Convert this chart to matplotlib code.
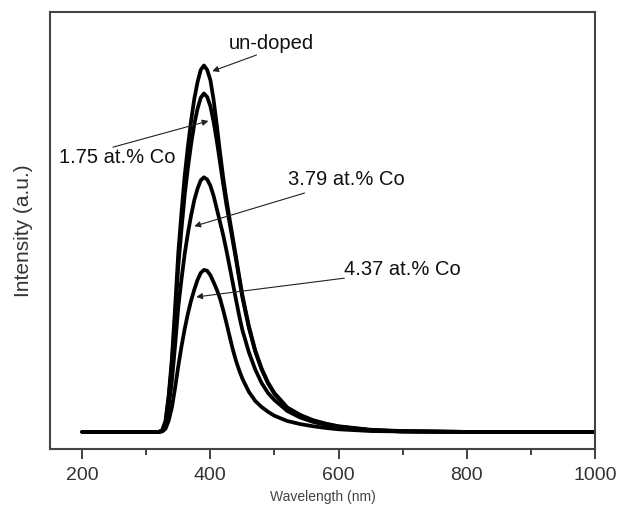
import matplotlib
matplotlib.use("Agg")
import matplotlib.pyplot as plt
from matplotlib.ticker import MultipleLocator

plt.rcParams['font.family'] = ['Liberation Sans', 'DejaVu Sans']

wavelength = [200, 320, 325, 330, 335, 340, 345, 350, 355, 360,
              365, 370, 375, 380, 385, 390, 395, 400, 405, 410,
              415, 420, 425, 430, 435, 440, 445, 450, 460, 470,
              480, 490, 500, 520, 540, 560, 580, 600, 650, 700,
              800, 1000]

undoped = [0.039, 0.039, 0.043, 0.064, 0.123, 0.207, 0.324, 0.450, 0.542, 0.626,
           0.693, 0.752, 0.802, 0.840, 0.868, 0.878, 0.868, 0.845, 0.800, 0.742,
           0.680, 0.622, 0.572, 0.527, 0.483, 0.440, 0.395, 0.352, 0.282, 0.226,
           0.184, 0.152, 0.128, 0.095, 0.078, 0.066, 0.058, 0.052, 0.044, 0.041,
           0.039, 0.039]

co_175 = [0.039, 0.039, 0.043, 0.062, 0.117, 0.194, 0.303, 0.419, 0.504, 0.582,
          0.644, 0.698, 0.744, 0.779, 0.804, 0.814, 0.806, 0.785, 0.750, 0.706,
          0.657, 0.607, 0.560, 0.518, 0.476, 0.434, 0.390, 0.347, 0.278, 0.223,
          0.182, 0.150, 0.126, 0.094, 0.077, 0.065, 0.057, 0.051, 0.043, 0.040,
          0.039, 0.039]

co_379 = [0.039, 0.039, 0.042, 0.056, 0.097, 0.156, 0.237, 0.325, 0.389, 0.447,
          0.494, 0.535, 0.570, 0.596, 0.615, 0.622, 0.617, 0.603, 0.580, 0.550,
          0.520, 0.490, 0.455, 0.418, 0.380, 0.342, 0.305, 0.272, 0.222, 0.182,
          0.151, 0.128, 0.112, 0.087, 0.072, 0.062, 0.055, 0.050, 0.043, 0.040,
          0.039, 0.039]

co_437 = [0.039, 0.039, 0.040, 0.046, 0.065, 0.095, 0.140, 0.190, 0.235, 0.275,
          0.310, 0.340, 0.365, 0.387, 0.403, 0.410, 0.408, 0.398, 0.382, 0.365,
          0.345, 0.318, 0.289, 0.258, 0.228, 0.202, 0.180, 0.161, 0.131, 0.110,
          0.096, 0.085, 0.076, 0.064, 0.057, 0.052, 0.048, 0.045, 0.041, 0.040,
          0.039, 0.039]

series = [undoped, co_175, co_379, co_437]
labels = ["un-doped", "1.75 at.% Co", "3.79 at.% Co", "4.37 at.% Co"]

fig = plt.figure(figsize=(6.19, 5.09), dpi=100)
ax = fig.add_axes([0.081, 0.118, 0.880, 0.858])

for s in series:
    ax.plot(wavelength, s, color='black', lw=2.7, solid_joinstyle='round',
            solid_capstyle='round')

ax.set_xlim(150, 1000)
ax.set_ylim(0, 1)
ax.set_xticks([200, 400, 600, 800, 1000])
ax.xaxis.set_minor_locator(MultipleLocator(100))
ax.set_yticks([])
ax.tick_params(axis='x', which='major', direction='out', length=7, width=1.3,
               labelsize=14, colors='#333333', pad=6)
ax.tick_params(axis='x', which='minor', direction='out', length=4, width=1.3,
               colors='#333333')
for sp in ax.spines.values():
    sp.set_linewidth(1.5)
    sp.set_color('#444444')

ax.set_xlabel("Wavelength (nm)", fontsize=10, color='#444444', labelpad=4)
ax.set_ylabel("Intensity (a.u.)", fontsize=15, color='#333333', labelpad=12)

arrow = dict(arrowstyle='-|>', color='#222222', lw=0.8,
             mutation_scale=9, shrinkA=0, shrinkB=0)
tkw = dict(fontsize=14.5, va='center', color='#111111')

ax.annotate("", xy=(403, 0.865), xytext=(472, 0.902), arrowprops=arrow)
ax.text(495, 0.929, labels[0], ha='center', **tkw)

ax.annotate("", xy=(397, 0.751), xytext=(248, 0.691), arrowprops=arrow)
ax.text(254, 0.668, labels[1], ha='center', **tkw)

ax.annotate("", xy=(375, 0.510), xytext=(547, 0.586), arrowprops=arrow)
ax.text(612, 0.616, labels[2], ha='center', **tkw)

ax.annotate("", xy=(378, 0.348), xytext=(609, 0.391), arrowprops=arrow)
ax.text(609, 0.41, labels[3], ha='left', **tkw)

fig.savefig("out.png", dpi=100)
